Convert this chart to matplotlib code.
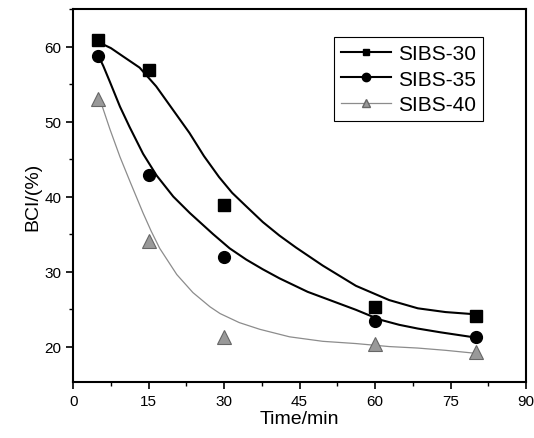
import numpy as np
import matplotlib
matplotlib.use('Agg')
import matplotlib.pyplot as plt
from matplotlib.ticker import MultipleLocator
from matplotlib.lines import Line2D

plt.rcParams['font.family'] = ['Liberation Sans', 'DejaVu Sans']

# measured points
time = [5, 15, 30, 60, 80]
bci_30 = [60.9, 56.9, 38.9, 25.3, 24.1]
bci_35 = [58.7, 42.9, 32.0, 23.4, 21.3]
bci_40 = [53.0, 34.1, 21.3, 20.3, 19.3]

# fitted curves
fit_t_30 = [5, 7.5, 9.9, 13.2, 16.5, 19.8, 23.1, 26, 29, 31.6, 34.4, 37.7, 41, 44.3,
            49.6, 56.2, 62.8, 68.5, 74, 80]
fit_y_30 = [60.6, 59.8, 58.7, 57.2, 54.7, 51.6, 48.5, 45.4, 42.6, 40.5, 38.7, 36.6, 34.8, 33.2,
            30.8, 28.1, 26.2, 25.1, 24.6, 24.3]
fit_t_35 = [5, 6, 7.3, 9.3, 11.2, 13.9, 16.6, 19.9, 23.2, 27.8, 31.1, 34.4, 37.7, 41,
            46.6, 51, 56.2, 60.9, 64.8, 68.5, 73, 80]
fit_y_35 = [58.8, 57.4, 55.3, 52.0, 49.3, 45.7, 42.8, 40.0, 37.8, 35.0, 33.1, 31.6, 30.3, 29.1,
            27.3, 26.2, 24.9, 23.6, 22.9, 22.4, 21.9, 21.2]
fit_t_40 = [5, 5.6, 7.3, 9.3, 11.3, 13.9, 15.5, 17.2, 20.6, 23.8, 27.2, 29.2, 33, 37.1,
            43, 49.6, 56.2, 62.8, 68.5, 74, 80]
fit_y_40 = [53.0, 52.4, 49.0, 45.3, 42.0, 37.8, 35.4, 33.1, 29.6, 27.2, 25.3, 24.4, 23.2, 22.3,
            21.3, 20.7, 20.4, 20.0, 19.8, 19.5, 19.1]

fig = plt.figure(figsize=(5.34, 4.39), dpi=100)
ax = fig.add_axes([0.137, 0.128, 0.848, 0.849])

ax.plot(fit_t_30, fit_y_30, color='black', lw=1.5, solid_joinstyle='round')
ax.plot(fit_t_35, fit_y_35, color='black', lw=1.5, solid_joinstyle='round')
ax.plot(fit_t_40, fit_y_40, color='0.55', lw=0.9, solid_joinstyle='round')

ax.plot(time, bci_30, 's', color='black', ms=8.5)
ax.plot(time, bci_35, 'o', color='black', ms=8.5)
ax.plot(time, bci_40, '^', color='0.6', mec='0.4', mew=0.8, ms=9.5)

# legend: line with marker in the middle
handles = [
    Line2D([], [], color='black', lw=1.5, marker='s', ms=5),
    Line2D([], [], color='black', lw=1.5, marker='o', ms=6),
    Line2D([], [], color='0.55', lw=0.9, marker='^', ms=6, mfc='0.6', mec='0.4'),
]
leg = ax.legend(handles, ['SIBS-30', 'SIBS-35', 'SIBS-40'], loc='upper right',
                bbox_to_anchor=(0.905, 0.925), borderaxespad=0, fancybox=False,
                edgecolor='black', fontsize=15, handlelength=2.4, handletextpad=0.3,
                labelspacing=0.3, borderpad=0.35, framealpha=1)
leg.get_frame().set_linewidth(0.8)

ax.set_xlim(0, 90)
ax.set_ylim(15.3, 65)
ax.xaxis.set_major_locator(MultipleLocator(15))
ax.xaxis.set_minor_locator(MultipleLocator(7.5))
ax.yaxis.set_major_locator(MultipleLocator(10))
ax.yaxis.set_minor_locator(MultipleLocator(5))
ax.tick_params(which='major', direction='out', length=5, width=1.2, labelsize=11)
ax.tick_params(which='minor', direction='out', length=3, width=1)
for s in ax.spines.values():
    s.set_linewidth(1.5)

ax.set_xlabel('Time/min', fontsize=14, labelpad=2)
ax.set_ylabel('BCI/(%)', fontsize=14, labelpad=2)

fig.savefig('out.png', dpi=100)
